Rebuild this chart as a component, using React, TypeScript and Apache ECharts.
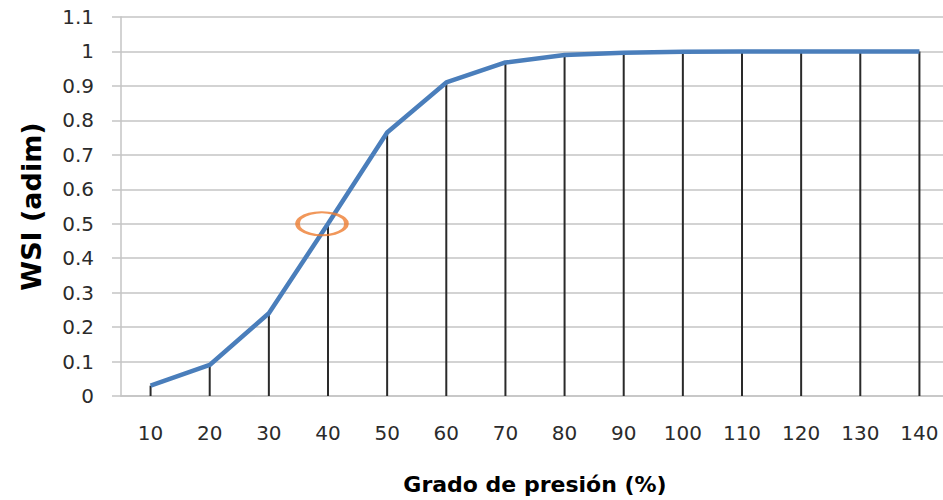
import React, { useEffect, useRef } from "react";
import * as echarts from "echarts";

const categories = ["10", "20", "30", "40", "50", "60", "70", "80", "90", "100", "110", "120", "130", "140"];
const wsiValues = [0.03, 0.09, 0.24, 0.5, 0.765, 0.91, 0.968, 0.99, 0.996, 0.999, 1, 1, 1, 1];
const highlightPoint = [["40", 0.5]];
const yTicks = { min: 0, max: 1.1, interval: 0.1 };

const FONT = "DejaVu Sans";
const GRID_GRAY = "#c4c4c4";

export default function App() {
  const ref = useRef<HTMLDivElement>(null);
  useEffect(() => {
    if (!ref.current) return;
    const chart = echarts.init(ref.current, null, { renderer: "svg" });
    chart.setOption({
      animation: false,
      backgroundColor: "#ffffff",
      grid: { left: 121, right: 0, top: 17, bottom: 102 },
      xAxis: {
        type: "category",
        data: categories,
        boundaryGap: true,
        name: "Grado de presión (%)",
        nameLocation: "middle",
        nameGap: 77,
        nameTextStyle: { fontFamily: FONT, fontWeight: "bold", fontSize: 22, color: "#000" },
        axisLine: { lineStyle: { color: GRID_GRAY, width: 1.5 } },
        axisTick: { show: false },
        axisLabel: { margin: 27, fontFamily: FONT, fontSize: 20, color: "#2b2b2b", interval: 0 },
        splitLine: { show: false },
      },
      yAxis: {
        type: "value",
        min: yTicks.min,
        max: yTicks.max,
        interval: yTicks.interval,
        name: "WSI (adim)",
        nameLocation: "middle",
        nameGap: 76,
        nameTextStyle: { fontFamily: FONT, fontWeight: "bold", fontSize: 27, color: "#000" },
        axisLine: { show: true, lineStyle: { color: GRID_GRAY, width: 1.5 } },
        axisTick: { show: true, length: 9, lineStyle: { color: GRID_GRAY, width: 1.5 } },
        axisLabel: {
          margin: 27,
          fontFamily: FONT,
          fontSize: 20,
          color: "#2b2b2b",
          formatter: (v: number) => String(Math.round(v * 10) / 10),
        },
        splitLine: { show: true, lineStyle: { color: GRID_GRAY, width: 1.5 } },
      },
      series: [
        {
          type: "bar",
          data: wsiValues,
          barWidth: 2,
          itemStyle: { color: "#2a2a2a" },
          z: 2,
          silent: true,
        },
        {
          type: "line",
          data: wsiValues,
          smooth: false,
          showSymbol: false,
          symbol: "none",
          lineStyle: { color: "#4a7ebb", width: 4.5 },
          z: 3,
        },
        {
          type: "scatter",
          data: highlightPoint,
          symbol: "circle",
          symbolSize: [49, 23],
          symbolOffset: [-6, 0],
          itemStyle: { color: "rgba(0,0,0,0)", borderColor: "#ed7d31", borderWidth: 3.2 },
          z: 4,
        },
      ],
    });
    return () => chart.dispose();
  }, []);
  return (
    <div style={{ width: 943, height: 500, position: "absolute", left: 0, top: 0, overflow: "hidden" }}>
      <div ref={ref} style={{ width: 949, height: 500 }} />
    </div>
  );
}
